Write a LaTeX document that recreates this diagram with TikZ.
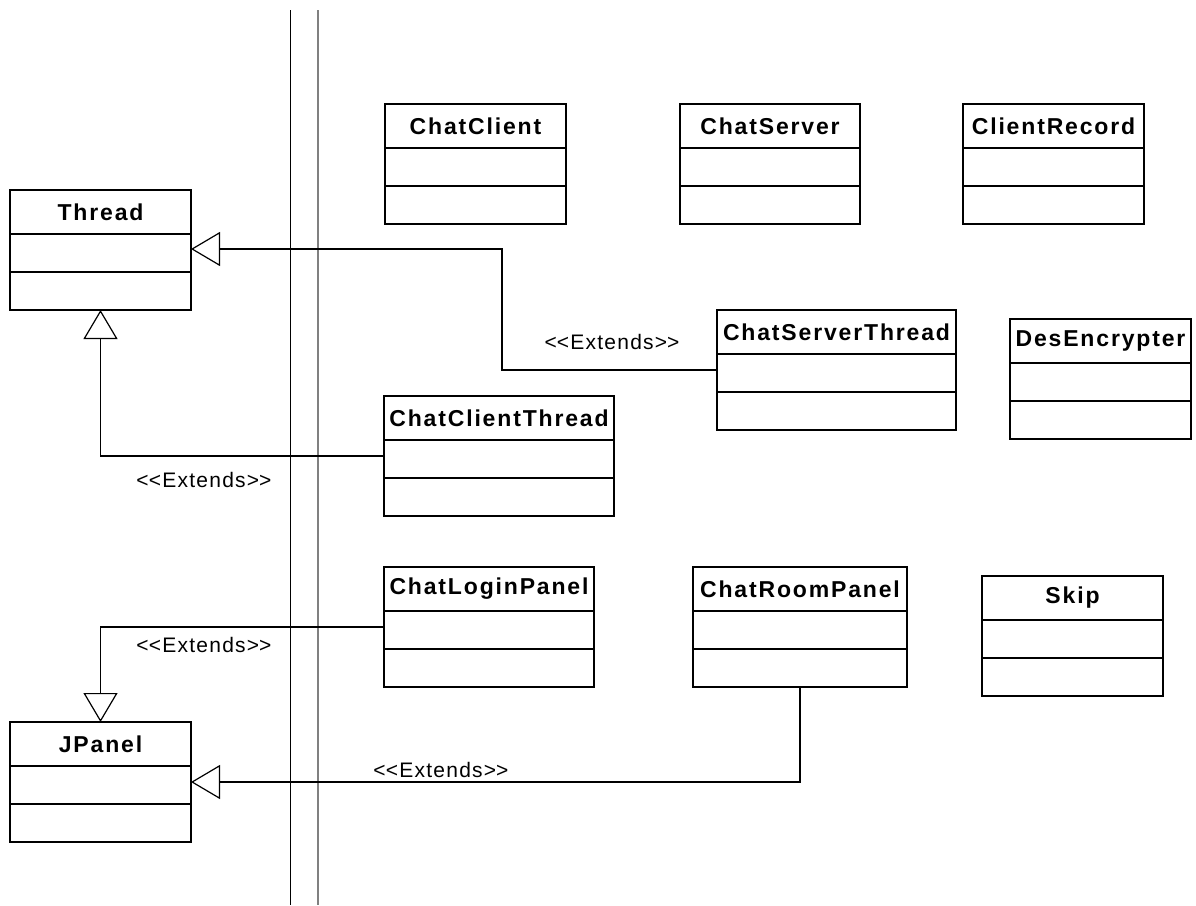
\documentclass[tikz,border=0pt]{standalone}
\usepackage{fontspec}
\usetikzlibrary{positioning,arrows.meta}
\newfontfamily\classfont[LetterSpace=8]{Liberation Sans}
\newfontfamily\notefont[LetterSpace=6]{Liberation Sans}
% stereotype text, kerns keep << and >> apart
\newcommand\extnote{<\kern0pt<Extends>\kern0pt>}
\begin{document}
\begin{tikzpicture}[x=1pt,y=-1pt,
  every node/.style={inner sep=0pt,outer sep=0pt},
  classname/.style={draw,line width=1.7pt,anchor=north west,minimum height=44pt,
    font=\fontsize{23}{26}\selectfont\classfont\bfseries},
  classpart/.style={draw,line width=1.7pt,minimum height=38pt},
  extends/.style={line width=1.2pt,-{Triangle[open,length=29pt,width=34pt]}},
  extnote/.style={font=\fontsize{21}{24}\selectfont\notefont}]
\useasboundingbox (0,0) rectangle (1196,905);
% separator lines
\coordinate (sepa top) at (290,10);
\coordinate (sepa bot) at (290,905);
\coordinate (sepb top) at (318,10);
\coordinate (sepb bot) at (318,905);
\draw [line width=1pt] (sepa top) -- (sepa bot);
\draw [line width=1.3pt,black!50] (sepb top) -- (sepb bot);
% classes: name / left / top / width / title
\foreach \n/\x/\y/\w/\t in {thread/10/190/181/Thread,
    chatclient/385/104/181/ChatClient,
    chatserver/680/104/180/ChatServer,
    clientrecord/963/104/181/ClientRecord,
    chatserverthread/717/310/239/ChatServerThread,
    desencrypter/1010/319/181/DesEncrypter,
    chatclientthread/384/396/230/ChatClientThread,
    chatloginpanel/384/567/210/ChatLoginPanel,
    chatroompanel/693/567/214/ChatRoomPanel,
    skip/982/576/181/Skip,
    jpanel/10/722/181/JPanel} {
  \node [classname,minimum width=\w pt] (\n) at (\x,\y) {\t};
  \node [classpart,minimum width=\w pt,below=0pt of \n] (\n-a) {};
  \node [classpart,minimum width=\w pt,below=0pt of \n-a] (\n-o) {};
}
% generalisations
\draw [extends] ([yshift=3pt]chatserverthread-a.west) -- ++(-215,0) |- ([yshift=4pt]thread-a.east);
\draw [extends] ([yshift=3pt]chatclientthread-a.west) -| (thread-o.south);
\draw [extends] ([yshift=3pt]chatloginpanel-a.west) -| (jpanel.north);
\draw [extends] (chatroompanel-o.south) |- ([yshift=3pt]jpanel-a.east);
\node [extnote] (ext1) at (612,342) {\extnote};
\node [extnote] (ext2) at (204,480) {\extnote};
\node [extnote] (ext3) at (204,645) {\extnote};
\node [extnote] (ext4) at (441,770) {\extnote};
\end{tikzpicture}
\end{document}
